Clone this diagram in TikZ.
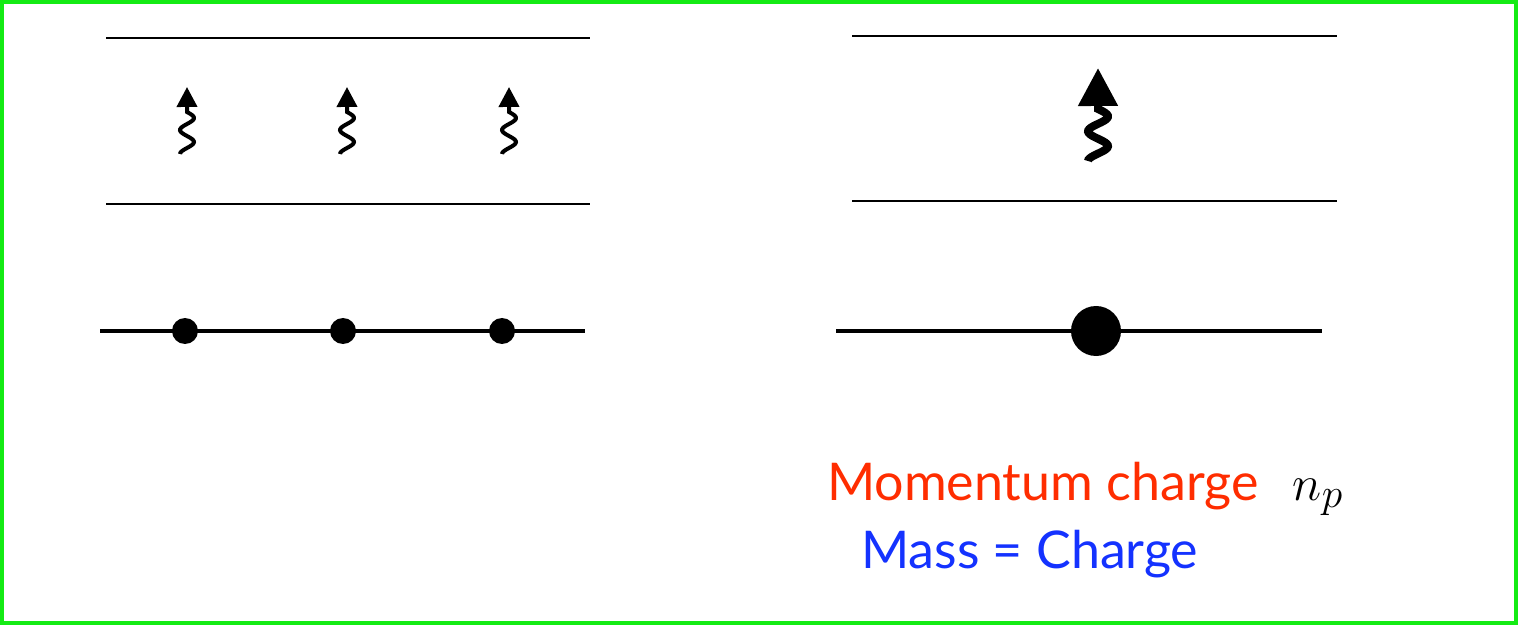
\documentclass[tikz,border=0pt]{standalone}
\usepackage{fontspec}
\setmainfont{Lato}
\usetikzlibrary{positioning,arrows.meta}
\definecolor{framegreen}{RGB}{20,235,20}
\definecolor{momred}{RGB}{255,45,0}
\definecolor{massblue}{RGB}{20,50,255}

\begin{document}
\begin{tikzpicture}[x=0.5pt, y=-0.5pt,
                    rail/.style={line width=1pt},
                    string/.style={line width=1.8pt},
                    dot/.style={circle, fill, inner sep=0pt, minimum size=13pt},
                    bigdot/.style={circle, fill, inner sep=0pt, minimum size=25pt},
                    wiggle/.style={line width=2pt, -{Triangle[length=10pt, width=10pt]}},
                    bigwiggle/.style={line width=4pt, -{Triangle[length=19pt, width=19pt]}},
                    label/.style={anchor=base west, font=\fontsize{26}{30}\selectfont}]
    \useasboundingbox (0,0) rectangle (1518,625);
    \draw[framegreen, line width=2.2pt] (2,2) rectangle (1516,623);
    % left side: many small charges
    \draw[rail] (106,38) -- (590,38);
    \draw[rail] (106,204) -- (590,204);
    \foreach \p in {187, 347, 509} {
        \draw[wiggle] plot[smooth, variable=\t, domain=0:1, samples=40]
            ({\p + 7*sin(630*(1-\t))}, {154 - 42*\t}) -- (\p,87);
    }
    \draw[string] (100,331) -- (585,331);
    \node[dot] (d1) at (185,331) {};
    \node[dot] (d2) at (343,331) {};
    \node[dot] (d3) at (502,331) {};
    % right side: one big charge
    \draw[rail] (852,36) -- (1337,36);
    \draw[rail] (852,201) -- (1337,201);
    \draw[bigwiggle] plot[smooth, variable=\t, domain=0:1, samples=40]
        ({1098 + 10*sin(630*(1-\t))}, {161 - 52*\t}) -- (1098,68);
    \draw[string] (836,331) -- (1322,331);
    \node[bigdot] (big) at (1096,331) {};
    % labels
    \node[label, text=momred] (mom) at (820,500) {Momentum charge};
    \node[font=\fontsize{28}{32}\selectfont, right=10pt of mom.base east, anchor=base west] (np) {$n_p$};
    \node[label, text=massblue] (mass) at (854,568) {Mass = Charge};
\end{tikzpicture}
\end{document}
